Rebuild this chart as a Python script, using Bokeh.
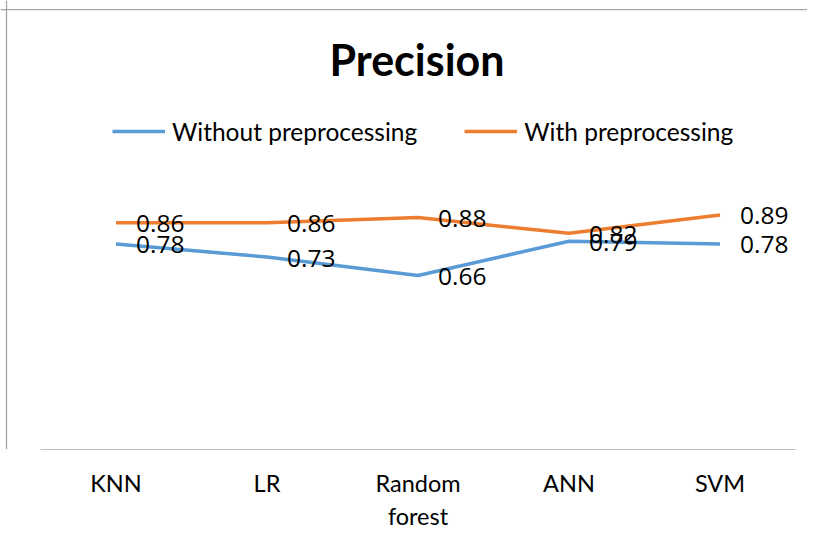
from bokeh.plotting import figure
from bokeh.models import (ColumnDataSource, LabelSet, Label, Legend, LegendItem,
                          Range1d, FixedTicker, Span)
from bokeh.core.properties import value
from bokeh.embed import file_html
from bokeh.resources import INLINE

categories = ["KNN", "LR", "Random forest", "ANN", "SVM"]
tick_labels = ["KNN", "LR", "Random\nforest", "ANN", "SVM"]
without_pre = [0.78, 0.73, 0.66, 0.79, 0.78]
with_pre = [0.86, 0.86, 0.88, 0.82, 0.89]
series_names = ["Without preprocessing", "With preprocessing"]
title_text = "Precision"

BLUE = "#5B9BD5"
ORANGE = "#ED7D31"

n = len(categories)
xs = [i + 0.5 for i in range(n)]

X0, X1 = -0.265, 5.0795
Y1 = 1.7033

p = figure(width=807, height=534, output_backend="svg", toolbar_location=None,
           x_range=Range1d(X0, X1), y_range=Range1d(0, Y1),
           min_border_left=0, min_border_right=0, min_border_top=0,
           min_border_bottom=85)
p.outline_line_color = None
p.background_fill_color = "white"
p.border_fill_color = "white"
p.xgrid.visible = False
p.ygrid.visible = False
p.yaxis.visible = False

ax = p.xaxis[0]
ax.ticker = FixedTicker(ticks=xs)
ax.bounds = (0, n)
ax.major_label_overrides = {x: t for x, t in zip(xs, tick_labels)}
ax.axis_line_color = "#bfbfbf"
ax.axis_line_width = 1
ax.major_tick_line_color = None
ax.minor_tick_line_color = None
ax.major_label_standoff = 13
ax.major_label_text_font = "Lato"
ax.major_label_text_font_size = "23.5px"
ax.major_label_text_color = "black"

# chart-area border (left and top edges)
p.add_layout(Span(location=-0.2252, dimension="height", line_color="#a6a6a6", line_width=1.3))
p.add_layout(Span(location=1.669, dimension="width", line_color="#a6a6a6", line_width=1.3))

src_a = ColumnDataSource(dict(x=xs, y=without_pre, t=[f"{v:.2f}" for v in without_pre]))
src_b = ColumnDataSource(dict(x=xs, y=with_pre, t=[f"{v:.2f}" for v in with_pre]))

ra = p.line("x", "y", source=src_a, line_color=BLUE, line_width=3.5)
rb = p.line("x", "y", source=src_b, line_color=ORANGE, line_width=3.5)

for src in (src_a, src_b):
    p.add_layout(LabelSet(x="x", y="y", text="t", source=src, x_offset=20, y_offset=-1,
                          text_baseline="middle", text_align="left",
                          text_font=value("Open Sans"), text_font_size=value("24.5px"),
                          text_color="black"))

p.add_layout(Label(x=416.5, y=390, x_units="screen", y_units="screen", text=title_text,
                   text_align="center", text_baseline="alphabetic",
                   text_font="Lato", text_font_style="bold", text_font_size="43px",
                   text_color="black"))

legend = Legend(items=[LegendItem(label=series_names[0], renderers=[ra]),
                       LegendItem(label=series_names[1], renderers=[rb])],
                orientation="horizontal", location=(112, 303),
                glyph_width=53, glyph_height=30, label_height=30, label_standoff=7,
                spacing=47, padding=0, margin=0,
                label_text_font="Lato", label_text_font_size="24.5px",
                label_text_color="black",
                border_line_color=None, background_fill_alpha=0)
p.add_layout(legend, "center")

open("out.html", "w").write(file_html(p, INLINE))
